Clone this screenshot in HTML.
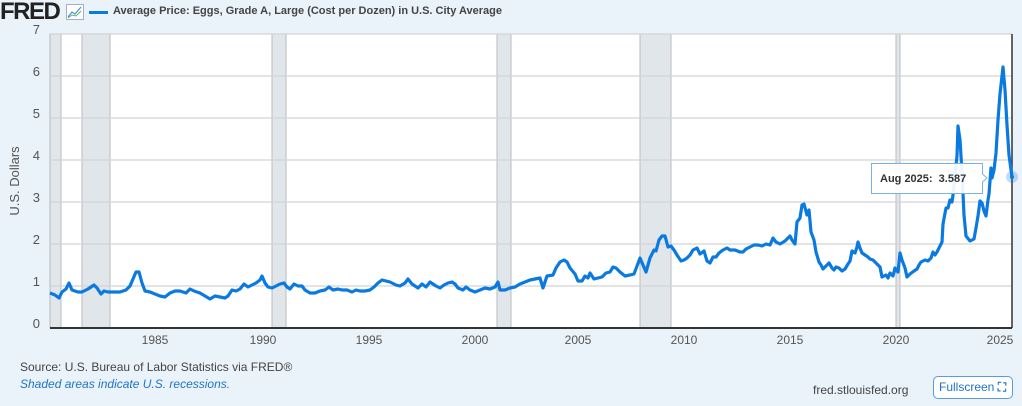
<!DOCTYPE html>
<html><head><meta charset="utf-8"><style>
body{margin:0;width:1022px;height:406px;background:#eaf2fa;font-family:"Liberation Sans",sans-serif;overflow:hidden;position:relative}
.a{position:absolute;white-space:nowrap}
</style></head><body>
<div class="a" style="left:0;top:0;font-weight:bold;font-size:24px;letter-spacing:-1.5px;color:#222;line-height:24px">FRED</div>
<svg class="a" style="left:66px;top:4px" width="18" height="16"><rect x="0.5" y="0.5" width="17" height="15" fill="#fff" stroke="#aac" /><polyline points="2,13 6,8 9,10 15,3" fill="none" stroke="#4a90d9" stroke-width="1.2"/><polyline points="2,14 6,11 10,12 15,7" fill="none" stroke="#5cb85c" stroke-width="1"/></svg>
<div class="a" style="left:89px;top:11px;width:19px;height:3px;background:#0b7ae0"></div>
<div class="a" style="left:113px;top:5px;font-size:11px;font-weight:bold;color:#444">Average Price: Eggs, Grade A, Large (Cost per Dozen) in U.S. City Average</div>
<svg class="a" style="left:0;top:0" width="1022" height="406">
<rect x="50" y="34" width="962" height="294" fill="#fff"/>
<g fill="#e1e6eb" stroke="#bbb" stroke-width="1">
<rect x="50" y="34" width="11" height="294"/><rect x="82" y="34" width="28" height="294"/><rect x="272" y="34" width="14" height="294"/><rect x="497" y="34" width="14" height="294"/><rect x="640" y="34" width="31" height="294"/><rect x="896" y="34" width="4" height="294"/>
</g>
<g stroke="#d3d3d3" stroke-width="1.2">
<line x1="50" x2="1012" y1="34" y2="34"/><line x1="50" x2="1012" y1="76" y2="76"/><line x1="50" x2="1012" y1="118" y2="118"/><line x1="50" x2="1012" y1="160" y2="160"/><line x1="50" x2="1012" y1="202" y2="202"/><line x1="50" x2="1012" y1="244" y2="244"/><line x1="50" x2="1012" y1="286" y2="286"/>
</g>
<line x1="1012" x2="1012" y1="34" y2="328" stroke="#333" stroke-width="1.5"/>
<line x1="50" x2="1012" y1="328" y2="328" stroke="#333" stroke-width="2"/>
<g font-size="13" fill="#555" text-anchor="end">
<text x="40" y="34">7</text><text x="40" y="76">6</text><text x="40" y="118">5</text><text x="40" y="160">4</text><text x="40" y="202">3</text><text x="40" y="244">2</text><text x="40" y="286">1</text><text x="40" y="328">0</text>
</g>
<text transform="translate(19,181) rotate(-90)" font-size="13" fill="#555" text-anchor="middle">U.S. Dollars</text>
<g font-size="12" fill="#555" text-anchor="middle">
<text x="155" y="344">1985</text><text x="263" y="344">1990</text><text x="369" y="344">1995</text><text x="475" y="344">2000</text><text x="578" y="344">2005</text><text x="684" y="344">2010</text><text x="790" y="344">2015</text><text x="896" y="344">2020</text><text x="1000" y="344">2025</text>
</g>
<polyline fill="none" stroke="#0b7ae0" stroke-width="3.2" stroke-linejoin="round" points="50,293 55,295 59,298 62,292 66,289 69,283 72,290 78,292 82,292 88,289 94,285 97,288 101,294 104,291 108,292 114,292 120,292 126,290 130,286 133,279 136,272 139,272 142,283 145,291 150,292 155,294 160,296 165,297 170,293 175,291 180,291 186,293 190,289 194,291 200,293 205,296 210,299 215,296 220,297 225,298 228,296 232,290 236,291 240,289 244,284 248,287 252,285 256,283 260,280 262,276 265,283 268,287 272,288 276,286 280,284 284,283 287,287 290,289 294,284 298,286 302,286 305,290 310,293 315,293 320,291 325,290 329,287 333,290 338,289 342,290 347,290 352,292 356,290 360,291 365,291 370,290 374,287 378,283 382,280 386,281 390,282 396,285 400,286 405,283 408,279 412,284 418,288 422,284 426,287 430,282 436,286 440,288 444,285 448,283 452,282 455,284 458,288 463,290 466,287 470,290 475,292 480,290 485,288 490,289 495,287 498,282 500,290 505,290 510,288 515,287 520,284 525,282 530,280 535,279 540,278 543,288 547,276 553,275 556,268 560,262 564,260 567,262 570,268 575,274 578,281 582,281 585,276 588,278 590,273 594,279 598,278 602,277 606,273 610,272 613,267 616,268 620,272 625,276 630,275 634,274 637,266 640,258 643,265 646,272 650,258 654,250 656,251 659,240 662,236 665,236 668,247 671,246 674,250 677,255 681,261 684,260 687,258 690,255 693,250 697,248 700,254 704,251 707,261 710,263 713,257 716,257 719,253 723,250 727,248 730,250 735,250 740,252 743,252 746,249 750,247 754,245 758,245 762,246 766,244 770,245 773,238 776,242 780,244 785,241 790,236 792,240 795,244 797,222 800,218 802,205 804,204 807,215 809,210 811,232 814,240 816,252 819,262 821,265 823,269 826,266 829,263 832,268 834,270 836,267 839,268 842,271 845,269 848,264 850,261 852,251 855,253 857,247 858,242 860,248 862,253 865,255 868,257 870,259 873,260 876,263 880,267 882,277 886,275 888,278 890,273 893,276 895,268 898,272 900,253 902,260 905,268 907,277 910,274 914,271 917,269 919,265 921,262 925,260 928,261 931,258 933,252 935,255 937,252 940,246 942,242 943,224 946,208 948,208 950,200 952,202 953,195 955,175 957,156 958,126 960,140 962,172 964,215 966,236 970,241 974,239 976,228 978,216 980,201 982,203 984,211 986,216 988,200 989,194 991,168 992,178 994,170 996,153 998,120 1000,94 1003,67 1005,90 1007,125 1009,155 1012,177"/>
<circle cx="1012" cy="177" r="6" fill="#0b7ae0" opacity="0.25"/>
<circle cx="1012" cy="177" r="2" fill="#0b7ae0"/>
<path d="M871.5,163.5 H982.5 V174 L987,178 L982.5,182 V193.5 H871.5 Z" fill="#fff" fill-opacity="0.92" stroke="#7ab0e8"/>
<text x="880" y="182" font-size="11" font-weight="bold" fill="#333" xml:space="preserve">Aug 2025:  3.587</text>
</svg>
<div class="a" style="left:20px;top:360px;font-size:12px;color:#444">Source: U.S. Bureau of Labor Statistics via FRED®</div>
<div class="a" style="left:20px;top:377px;font-size:12px;color:#1f74c9;font-style:italic">Shaded areas indicate U.S. recessions.</div>
<div class="a" style="left:813px;top:383px;font-size:12px;color:#444">fred.stlouisfed.org</div>
<div class="a" style="left:933px;top:376px;width:80px;height:23px;border:1px solid #5a9be0;border-radius:5px;background:#fff;box-sizing:border-box;font-size:12px;color:#1f74c9;line-height:21px;padding-left:5px">Fullscreen <span style="font-weight:bold">⛶</span></div>
</body></html>
